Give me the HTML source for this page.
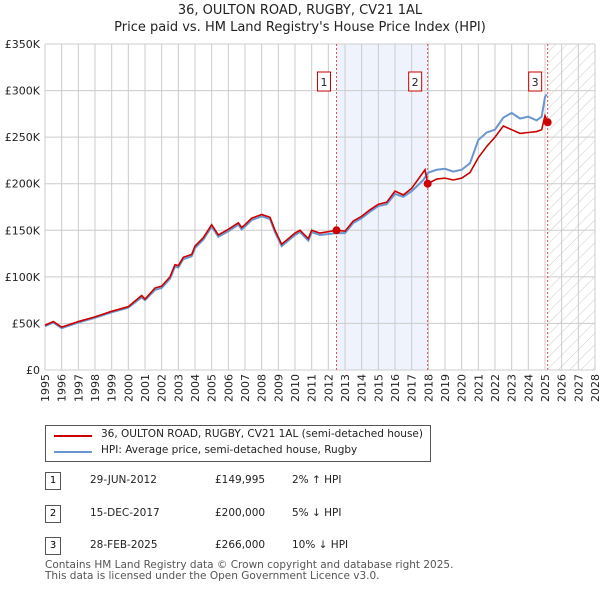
<!DOCTYPE html>
<html><head><meta charset="utf-8"><style>
body{margin:0;background:#fff;font-family:"DejaVu Sans","Liberation Sans",sans-serif;}
#wrap{position:relative;width:600px;height:590px;overflow:hidden}
.t{position:absolute;font-size:10.5px;color:#222;white-space:nowrap}
svg text{font-family:"DejaVu Sans","Liberation Sans",sans-serif}
</style></head><body><div id="wrap">
<svg id="svg" width="600" height="420" style="position:absolute;left:0;top:0">
<defs><pattern id="hatch" width="8" height="8" patternUnits="userSpaceOnUse" patternTransform="rotate(45)"><rect width="8" height="8" fill="#fff"/><line x1="0" y1="0" x2="0" y2="8" stroke="#ccc" stroke-width="1"/></pattern></defs>
<text x="300" y="14" text-anchor="middle" font-size="13" fill="#222">36, OULTON ROAD, RUGBY, CV21 1AL</text>
<text x="300" y="31" text-anchor="middle" font-size="13" fill="#222">Price paid vs. HM Land Registry's House Price Index (HPI)</text>
<g id="g"></g>
</svg>
<div style="position:absolute;left:45px;top:425px;width:386px;height:37px;border:1px solid #555;box-sizing:border-box">
<div style="position:absolute;left:8px;top:9px;width:38px;height:2px;background:#cc0000"></div>
<div class="t" style="left:55px;top:2px">36, OULTON ROAD, RUGBY, CV21 1AL (semi-detached house)</div>
<div style="position:absolute;left:8px;top:25px;width:38px;height:2px;background:#6a96d0"></div>
<div class="t" style="left:55px;top:18px">HPI: Average price, semi-detached house, Rugby</div>
</div>
<div id="rows"></div>
<div class="t" style="left:45px;top:559px;color:#555">Contains HM Land Registry data © Crown copyright and database right 2025.</div>
<div class="t" style="left:45px;top:570px;color:#555">This data is licensed under the Open Government Licence v3.0.</div>
</div>
<script>
const yearTicks=[1995,1996,1997,1998,1999,2000,2001,2002,2003,2004,2005,2006,2007,2008,2009,2010,2011,2012,2013,2014,2015,2016,2017,2018,2019,2020,2021,2022,2023,2024,2025,2026,2027,2028];
const priceTicks=[0,50,100,150,200,250,300,350];
const hpiT=[1995,1995.5,1996,1997,1998,1999,2000,2000.8,2001,2001.6,2002,2002.5,2002.8,2003,2003.3,2003.8,2004,2004.5,2005,2005.4,2006,2006.6,2006.8,2007,2007.4,2008,2008.5,2008.8,2009.2,2010,2010.3,2010.8,2011,2011.5,2012.5,2013,2013.5,2014,2014.5,2015,2015.5,2016,2016.5,2017,2017.7,2018,2018.5,2019,2019.5,2020,2020.5,2021,2021.5,2022,2022.5,2023,2023.5,2024,2024.5,2024.8,2025,2025.1];
const hpiV=[47,51,45,51,56,62,67,78,75,86,88,98,111,110,119,122,131,140,154,143,149,156,151,154,161,165,162,148,133,145,148,139,148,145,147,147,158,163,170,176,178,189,186,192,204,212,215,216,213,215,222,247,255,258,271,276,270,272,268,272,293,296];
const redT=[1995,1995.5,1996,1997,1998,1999,2000,2000.8,2001,2001.6,2002,2002.5,2002.8,2003,2003.3,2003.8,2004,2004.5,2005,2005.4,2006,2006.6,2006.8,2007,2007.4,2008,2008.5,2008.8,2009.2,2010,2010.3,2010.8,2011,2011.5,2012.49,2013,2013.5,2014,2014.5,2015,2015.5,2016,2016.5,2017,2017.8,2017.96,2018.5,2019,2019.5,2020,2020.5,2021,2021.5,2022,2022.5,2023,2023.5,2024,2024.5,2024.8,2025,2025.16];
const redV=[48,52,46,52,57,63,68,80,76,88,90,100,113,112,121,124,133,142,156,145,151,158,153,156,163,167,164,150,135,147,150,141,150,147,150,149,160,165,172,178,180,192,188,195,215,200,205,206,204,206,212,228,240,250,262,258,254,255,256,258,273,266];
const saleT=[2012.49,2017.96,2025.16];
const saleV=[150,200,266];
const saleLbl=["1","2","3"];
const rowDate=["29-JUN-2012","15-DEC-2017","28-FEB-2025"];
const rowPrice=["£149,995","£200,000","£266,000"];
const rowHpi=["2% ↑ HPI","5% ↓ HPI","10% ↓ HPI"];
const X=y=>45+(y-1995)*550/33, Y=v=>370-v*326/350;
const g=document.getElementById('g');const NS='http://www.w3.org/2000/svg';
function mk(t,a){const e=document.createElementNS(NS,t);for(const k in a)e.setAttribute(k,a[k]);g.appendChild(e);return e;}
let e=mk('rect',{x:X(saleT[0]),y:Y(350),width:X(saleT[1])-X(saleT[0]),height:Y(0)-Y(350),fill:'#eef3fd'});

e=mk('rect',{x:X(saleT[2]),y:Y(350),width:X(2028)-X(saleT[2]),height:Y(0)-Y(350),fill:'url(#hatch)'});

yearTicks.forEach(y=>{e=mk('line',{x1:X(y),x2:X(y),y1:Y(350),y2:Y(0),stroke:'#ccc'});

const tx=mk('text',{x:0,y:0,transform:`translate(${X(y)+4},${Y(0)+4}) rotate(-90)`,'text-anchor':'end','font-size':'11',fill:'#222'});tx.textContent=y;
});
priceTicks.forEach(v=>{e=mk('line',{x1:X(1995),x2:X(2028),y1:Y(v),y2:Y(v),stroke:'#ccc'});

const tx=mk('text',{x:40,y:Y(v)+4,'text-anchor':'end','font-size':'11',fill:'#222'});tx.textContent=v?'£'+v+'K':'£0';
});
saleT.forEach((t,i)=>{e=mk('line',{x1:X(t),x2:X(t),y1:Y(350),y2:Y(0),stroke:'#e05050','stroke-dasharray':'2,2'});
});
e=mk('polyline',{points:hpiT.map((t,i)=>X(t)+','+Y(hpiV[i])).join(' '),fill:'none',stroke:'#6a96d0','stroke-width':2});

e=mk('polyline',{points:redT.map((t,i)=>X(t)+','+Y(redV[i])).join(' '),fill:'none',stroke:'#cc0000','stroke-width':1.6});

saleT.forEach((t,i)=>{e=mk('circle',{cx:X(t),cy:Y(saleV[i]),r:4,fill:'#cc0000'});

e=mk('rect',{x:X(t)-19,y:72,width:13,height:19,fill:'#fff',stroke:'#cc0000'});

const tx=mk('text',{x:X(t)-12.5,y:86,'text-anchor':'middle','font-size':'11',fill:'#222'});tx.textContent=saleLbl[i];
});
const rows=document.getElementById('rows');
rowDate.forEach((d,i)=>{const top=472+i*32.5;
const r=document.createElement('div');
r.innerHTML=`<div style="position:absolute;left:45px;top:${top}px;width:16px;height:18px;border:1px solid #555;box-sizing:border-box;font-size:10px;text-align:center;line-height:16px">${saleLbl[i]}</div>
<div class="t" style="left:90px;top:${top+2}px">${d}</div><div class="t" style="left:215px;top:${top+2}px">${rowPrice[i]}</div><div class="t" style="left:292px;top:${top+2}px">${rowHpi[i]}</div>`;
rows.appendChild(r);});
</script></body></html>
